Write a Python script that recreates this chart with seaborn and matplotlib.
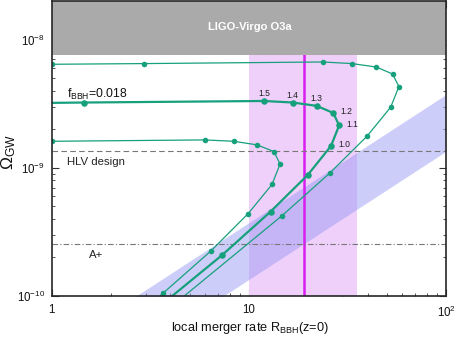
import numpy as np
import pandas as pd
import matplotlib
matplotlib.use("Agg")
import matplotlib.pyplot as plt
import matplotlib.ticker as mticker
import seaborn as sns

# ---------------- data ----------------
# upper thin curve
upper_R = [0.5, 1.0, 2.93, 23.8, 33.4, 44.3, 53.6, 57.7, 52.4, 39.7, 25.7, 14.7, 3.34]
upper_O = [6.42e-9, 6.42e-9, 6.50e-9, 6.69e-9, 6.50e-9, 6.11e-9, 5.39e-9, 4.30e-9,
           2.97e-9, 1.76e-9, 9.08e-10, 4.22e-10, 6.49e-11]
# middle thick curve (f_BBH = 0.018)
mid_R = [0.5, 1.0, 1.46, 11.97, 16.7, 22.1, 26.8, 28.7, 26.1, 19.9, 12.9, 7.33, 3.34]
mid_O = [3.21e-9, 3.21e-9, 3.23e-9, 3.32e-9, 3.23e-9, 3.04e-9, 2.68e-9, 2.14e-9,
         1.48e-9, 8.8e-10, 4.56e-10, 2.09e-10, 7.76e-11]
mid_markers = [2, 3, 4, 5, 6, 7, 8, 9, 10, 11]
# lower thin curve
low_R = [0.5, 1.0, 5.97, 8.37, 10.99, 13.4, 14.4, 13.1, 9.93, 6.43, 3.66, 1.97]
low_O = [1.61e-9, 1.61e-9, 1.65e-9, 1.61e-9, 1.51e-9, 1.34e-9, 1.07e-9, 7.41e-10,
         4.40e-10, 2.25e-10, 1.047e-10, 4.53e-11]

# labels of the middle curve points
param_labels = ["1.5", "1.4", "1.3", "1.2", "1.1", "1.0"]
param_idx = [3, 4, 5, 6, 7, 8]

# observational constraints
o3a_limit = 7.55e-9
rate_band = [10.0, 35.3]
rate_best = 19.1
hlv_design = 1.345e-9
aplus = 2.55e-10
band_R = [1.0, 100.0]
band_upper = [3.73e-11, 3.73e-9]
band_lower = [1.345e-11, 1.345e-9]

xlim = (1, 100)
ylim = (1e-10, 2e-8)

# ---------------- style ----------------
sns.set_style("ticks")
plt.rcParams["font.family"] = ["Liberation Sans", "DejaVu Sans"]
plt.rcParams["mathtext.fontset"] = "custom"
plt.rcParams["mathtext.rm"] = "Liberation Sans"
plt.rcParams["mathtext.it"] = "Liberation Sans"
plt.rcParams["mathtext.bf"] = "Liberation Sans:bold"

green = "#17a07c"

fig = plt.figure(figsize=(4.58, 3.38), dpi=100)
ax = fig.add_axes([0.1129, 0.1243, 0.8609, 0.8727])
ax.set_xscale("log")
ax.set_yscale("log")
ax.set_xlim(*xlim)
ax.set_ylim(*ylim)

# rate band and best value
ax.axvspan(rate_band[0], rate_band[1], color="#efd0fb", lw=0, zorder=1)
# diagonal band
ax.fill_between(band_R, band_lower, band_upper, color="#9c9cf5", alpha=0.5, lw=0, zorder=2)
ax.axvline(rate_best, color="#d81ef0", lw=1.8, zorder=3)

# O3a limit
ax.axhspan(o3a_limit, ylim[1], color="#aaaaaa", lw=0, zorder=5)
ax.text(10.1, 1.25e-8, "LIGO-Virgo O3a", color="white", fontsize=8.0,
        fontweight="bold", ha="center", va="center", zorder=6)

# sensitivities
ax.axhline(hlv_design, color="#777777", lw=0.8, ls=(0, (5, 3)), zorder=3)
ax.axhline(aplus, color="#777777", lw=0.8, ls=(0, (5, 2, 1, 2)), zorder=3)
ax.text(1.2, 1.1e-9, "HLV design", fontsize=8.2, ha="left", va="center", color="#222222")
ax.text(1.55, 2.1e-10, "A+", fontsize=8.2, ha="left", va="center", color="#222222")

# curves
df_up = pd.DataFrame({"R": upper_R, "O": upper_O})
df_mid = pd.DataFrame({"R": mid_R, "O": mid_O})
df_low = pd.DataFrame({"R": low_R, "O": low_O})

for df, lw in [(df_up, 0.9), (df_low, 0.9)]:
    sns.lineplot(data=df, x="R", y="O", sort=False, estimator=None, ax=ax,
                 color=green, lw=lw, marker="o", markersize=4, markeredgewidth=0,
                 zorder=4)
sns.lineplot(data=df_mid, x="R", y="O", sort=False, estimator=None, ax=ax,
             color=green, lw=1.6, zorder=4)
sns.scatterplot(data=df_mid.iloc[mid_markers], x="R", y="O", ax=ax, color=green,
                s=22, linewidth=0, zorder=4)

offsets = [(0, 7), (0, 7), (0, 7), (7, 1), (7, 1), (7, 1)]
for lab, i, off in zip(param_labels, param_idx, offsets):
    ha = "center" if off[0] == 0 else "left"
    ax.annotate(lab, (mid_R[i], mid_O[i]), xytext=off, textcoords="offset pixels",
                fontsize=6.2, ha=ha, va="center", color="#222222", zorder=6)

ax.text(1.2, 3.75e-9, r"f$_{\mathregular{BBH}}$=0.018", fontsize=8.8, ha="left",
        va="center", color="#111111")

# axes labels placed in figure coordinates
ax.set_xlabel("")
ax.set_ylabel("")
fig.text(250 / 458, 1 - 328 / 338, r"local merger rate R$_{\mathregular{BBH}}$(z=0)",
         fontsize=9.2, ha="center", va="center", color="#111111")
fig.text(9 / 458, 1 - 152 / 338, r"$\Omega_{\mathregular{GW}}$", fontsize=12.5,
         rotation=90, ha="center", va="center", color="#111111")

ax.xaxis.set_major_locator(mticker.FixedLocator([1, 10, 100]))
ax.xaxis.set_major_formatter(mticker.FixedFormatter(["1", "10", r"10$^2$"]))
ax.yaxis.set_major_locator(mticker.FixedLocator([1e-10, 1e-9, 1e-8]))
ax.yaxis.set_major_formatter(mticker.FixedFormatter([r"10$^{-10}$", r"10$^{-9}$", r"10$^{-8}$"]))
ax.xaxis.set_minor_locator(mticker.LogLocator(base=10, subs=np.arange(2, 10)))
ax.yaxis.set_minor_locator(mticker.LogLocator(base=10, subs=np.arange(2, 10)))
ax.xaxis.set_minor_formatter(mticker.NullFormatter())
ax.yaxis.set_minor_formatter(mticker.NullFormatter())
ax.tick_params(which="both", direction="in", top=True, right=True, labelsize=8.3,
               colors="#333333", labelcolor="#111111")
ax.tick_params(which="major", length=5, width=0.8)
ax.tick_params(which="minor", length=2.5, width=0.6)
ax.tick_params(axis="x", pad=6)
ax.tick_params(axis="y", pad=5)
for s in ax.spines.values():
    s.set_linewidth(1.2)
    s.set_zorder(7)

fig.savefig("out.png", dpi=100)
